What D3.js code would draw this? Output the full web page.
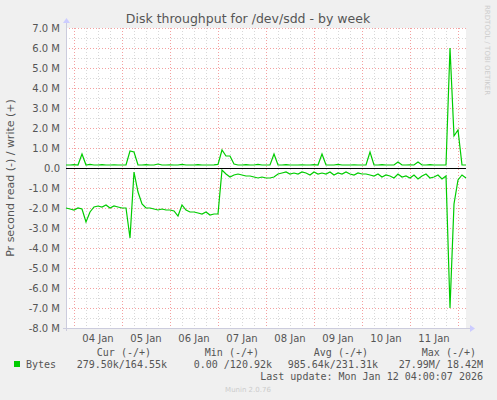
<!DOCTYPE html>
<html><head><meta charset="utf-8">
<script src="https://cdn.jsdelivr.net/npm/d3@7"></script>
<style>body{margin:0;background:#f0f0f0}svg{display:block}</style>
</head><body><svg id="canvas" width="497" height="400"></svg>
<script>
// hours since Jan 3 20:00, sampled every 2 hours, values in MB/s
let stepHours = 2
let writeVals = [.15,.15,.17,.15,.7,.15,.18,.15,.15,.17,.15,.15,.16,.15,.15,.15,.85,.8,.15,.15,
  .17,.15,.15,.2,.15,.15,.16,.15,.15,.18,.15,.15,.15,.17,.15,.15,.15,.16,.18,.9,
  .6,.6,.2,.15,.15,.17,.15,.15,.18,.15,.15,.15,.7,.15,.15,.17,.15,.15,.15,.16,
  .15,.15,.17,.15,.7,.15,.15,.15,.18,.15,.15,.15,.16,.15,.15,.15,.8,.15,.15,.17,
  .15,.15,.15,.3,.15,.15,.16,.15,.3,.15,.15,.17,.15,.15,.15,.15,6.0,1.6,1.9,.15,.15]
let readVals = [-2.0,-2.05,-2.1,-2.0,-2.05,-2.7,-2.2,-1.95,-1.9,-1.95,-1.85,-2.0,-1.9,-1.95,-2.0,-2.0,-3.5,-0.2,-1.2,-1.8,
  -2.0,-2.0,-2.05,-2.1,-2.05,-2.1,-2.1,-2.15,-2.4,-1.85,-2.1,-2.2,-2.2,-2.25,-2.3,-2.2,-2.35,-2.3,-2.3,-0.1,
  -0.3,-0.45,-0.35,-0.3,-0.35,-0.4,-0.4,-0.45,-0.5,-0.45,-0.5,-0.5,-0.45,-0.3,-0.25,-0.2,-0.3,-0.25,-0.3,-0.2,
  -0.25,-0.35,-0.2,-0.3,-0.25,-0.3,-0.2,-0.35,-0.25,-0.3,-0.2,-0.3,-0.35,-0.25,-0.3,-0.3,-0.35,-0.4,-0.3,-0.45,
  -0.35,-0.4,-0.5,-0.3,-0.45,-0.4,-0.5,-0.35,-0.55,-0.4,-0.3,-0.5,-0.45,-0.35,-0.55,-0.4,-7.0,-1.8,-0.6,-0.35,-0.5]
let yTicks = [7,6,5,4,3,2,1,0,-1,-2,-3,-4,-5,-6,-7,-8]
let dayLabels = ['04 Jan','05 Jan','06 Jan','07 Jan','08 Jan','09 Jan','10 Jan','11 Jan']
let legendHead = ['Cur (-/+)','Min (-/+)','Avg (-/+)','Max (-/+)']
let legendVals = ['279.50k/164.55k','0.00 /120.92k','985.64k/231.31k','27.99M/ 18.42M']

let canvas = d3.select('#canvas')
let x0 = 66, x1 = 466, yTop = 28, yBot = 328
let totalHours = 200
let x = d3.scaleLinear().domain([0, totalHours]).range([x0, x1])
let y = d3.scaleLinear().domain([-8, 7]).range([yBot, yTop])

canvas.append('rect').attr('x', x0).attr('y', yTop).attr('width', x1 - x0).attr('height', yBot - yTop).attr('fill', '#fff')

// grid: minor every 6h / 0.5M, major at midnight / 1M
for (let h = 4; h <= totalHours; h += 6) {
  let major = (h - 4) % 24 === 0
  canvas.append('line').attr('x1', x(h) + .5).attr('x2', x(h) + .5).attr('y1', yTop).attr('y2', yBot)
    .attr('stroke', major ? '#f4a0a0' : '#d8d8d8').attr('stroke-dasharray', '1,2')
}
for (let v = -8; v <= 7; v += .5) {
  let major = Number.isInteger(v)
  canvas.append('line').attr('x1', x0).attr('x2', x1).attr('y1', y(v) + .5).attr('y2', y(v) + .5)
    .attr('stroke', major ? '#f4a0a0' : '#d8d8d8').attr('stroke-dasharray', '1,2')
}

// axes
canvas.append('line').attr('x1', x0 - 3).attr('x2', x1 + 4).attr('y1', yBot + .5).attr('y2', yBot + .5).attr('stroke', '#ccd')
canvas.append('line').attr('x1', x0 + .5).attr('x2', x0 + .5).attr('y1', yBot + 3).attr('y2', yTop - 6).attr('stroke', '#ccd')
canvas.append('path').attr('d', `M${x1+4},${yBot-3}L${x1+9},${yBot+.5}L${x1+4},${yBot+4}Z`).attr('fill', '#ccf')
canvas.append('path').attr('d', `M${x0-3},${yTop-5}L${x0+.5},${yTop-10}L${x0+4},${yTop-5}Z`).attr('fill', '#ccf')

canvas.selectAll('.yt').data(yTicks).enter().append('text')
  .attr('x', x0 - 6).attr('y', d => y(d) + 4).attr('text-anchor', 'end')
  .attr('font-family', 'DejaVu Sans').attr('font-size', 10).attr('fill', '#555')
  .text(d => d === 0 ? '0.0' : d.toFixed(1) + ' M')

canvas.selectAll('.xt').data(dayLabels).enter().append('text')
  .attr('x', (d, i) => x(16 + i * 24)).attr('y', yBot + 14).attr('text-anchor', 'middle')
  .attr('font-family', 'DejaVu Sans').attr('font-size', 10).attr('fill', '#555').text(d => d)

// data lines
let line = d3.line().x((d, i) => x(i * stepHours)).y(d => y(d))
canvas.append('path').attr('d', line(writeVals)).attr('fill', 'none').attr('stroke', '#00cc00').attr('stroke-width', 1.2)
canvas.append('path').attr('d', line(readVals)).attr('fill', 'none').attr('stroke', '#00cc00').attr('stroke-width', 1.2)
canvas.append('line').attr('x1', x0).attr('x2', x1).attr('y1', y(0) + .5).attr('y2', y(0) + .5).attr('stroke', '#000')

// titles
canvas.append('text').attr('x', 248).attr('y', 23).attr('text-anchor', 'middle')
  .attr('font-family', 'DejaVu Sans').attr('font-size', 12.5).attr('fill', '#555')
  .text('Disk throughput for /dev/sdd - by week')
canvas.append('text').attr('transform', `translate(14,${(yTop + yBot) / 2}) rotate(-90)`).attr('text-anchor', 'middle')
  .attr('font-family', 'DejaVu Sans').attr('font-size', 11).attr('fill', '#555')
  .text('Pr second read (-) / write (+)')
canvas.append('text').attr('transform', 'translate(485,5) rotate(90)')
  .attr('font-family', 'DejaVu Sans').attr('font-size', 7).attr('fill', '#ccc')
  .text('RRDTOOL / TOBI OETIKER')

// legend
let mono = 'DejaVu Sans Mono'
let headRight = [151, 259, 368, 476]
let valRight = [167, 272, 378, 483]
legendHead.forEach((t, i) => canvas.append('text').attr('x', headRight[i]).attr('y', 356).attr('text-anchor', 'end')
  .attr('font-family', mono).attr('font-size', 10).attr('fill', '#555').text(t))
legendVals.forEach((t, i) => canvas.append('text').attr('x', valRight[i]).attr('y', 368).attr('text-anchor', 'end')
  .attr('font-family', mono).attr('font-size', 10).attr('fill', '#555').text(t))
canvas.append('rect').attr('x', 14).attr('y', 361).attr('width', 6).attr('height', 6).attr('fill', '#00cc00')
canvas.append('text').attr('x', 26).attr('y', 368).attr('font-family', mono).attr('font-size', 10).attr('fill', '#555').text('Bytes')
canvas.append('text').attr('x', 483).attr('y', 380).attr('text-anchor', 'end')
  .attr('font-family', mono).attr('font-size', 10).attr('fill', '#555').text('Last update: Mon Jan 12 04:00:07 2026')
canvas.append('text').attr('x', 248).attr('y', 392).attr('text-anchor', 'middle')
  .attr('font-family', 'DejaVu Sans').attr('font-size', 7).attr('fill', '#ccc').text('Munin 2.0.76')
</script></body></html>
